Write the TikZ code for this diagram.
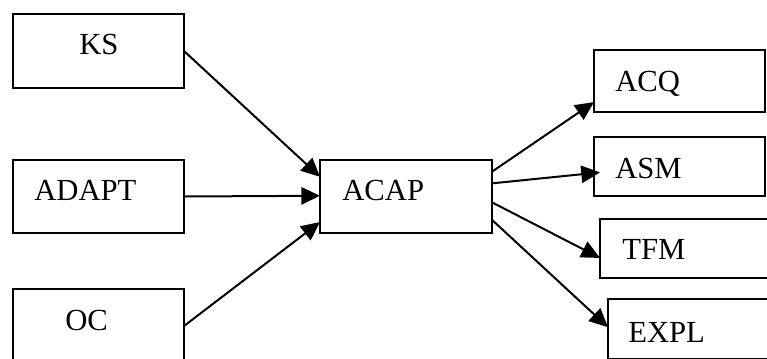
\documentclass[tikz,border=0pt]{standalone}
\usepackage{fontspec}
\setmainfont{Liberation Serif}
\usetikzlibrary{calc,arrows.meta}
\begin{document}
\begin{tikzpicture}[x=0.75pt,y=-0.75pt,
  box/.style={draw, line width=1.5pt, inner sep=0pt, outer sep=0pt, minimum width=128.25pt},
  txt/.style={anchor=base west, inner sep=0pt, font=\fontsize{23}{28}\selectfont},
  arr/.style={line width=1.5pt, -{Triangle[length=14pt,width=13pt]}}]
\useasboundingbox (0,0) rectangle (767,358);
\clip (0,0) rectangle (767,358);
% boxes
\node[box, minimum height=55.5pt] (ks) at (98.5,51) {};
\node[box, minimum height=54.75pt] (adapt) at (98.5,196.5) {};
\node[box, minimum height=55.5pt] (oc) at (98.5,326) {};
\node[box, minimum width=129pt, minimum height=54.75pt] (acap) at (406,196.5) {};
\node[box, minimum height=46.5pt] (acq) at (679.5,81) {};
\node[box, minimum height=44.25pt] (asm) at (679.5,166.5) {};
\node[box, minimum height=44.25pt] (tfm) at (685.5,248.5) {};
\node[box, minimum height=45pt] (expl) at (693.5,329) {};
% texts
\node[txt] at (79,54) {KS};
\node[txt] at (34,200) {ADAPT};
\node[txt] at (65,330) {OC};
\node[txt] at (342,200) {ACAP};
\node[txt] at (615,91) {ACQ};
\node[txt] at (615,178) {ASM};
\node[txt] at (622,259) {TFM};
\node[txt] at (628,342) {EXPL};
% connectors
\draw[arr] (ks.east) -- ($(acap.north west)!0.23!(acap.south west)$);
\draw[arr] (adapt.east) -- ($(acap.north west)!0.49!(acap.south west)$);
\draw[arr] (oc.east) -- ($(acap.north west)!0.85!(acap.south west)$);
\draw[arr] ($(acap.north east)!0.16!(acap.south east)$) -- ($(acq.north west)!0.84!(acq.south west)$);
\draw[arr, shorten >=-4.5pt] ($(acap.north east)!0.32!(acap.south east)$) -- ($(asm.north west)!0.61!(asm.south west)$);
\draw[arr] ($(acap.north east)!0.58!(acap.south east)$) -- ($(tfm.north west)!0.66!(tfm.south west)$);
\draw[arr] ($(acap.north east)!0.82!(acap.south east)$) -- ($(expl.north west)!0.47!(expl.south west)$);
\end{tikzpicture}
\end{document}
